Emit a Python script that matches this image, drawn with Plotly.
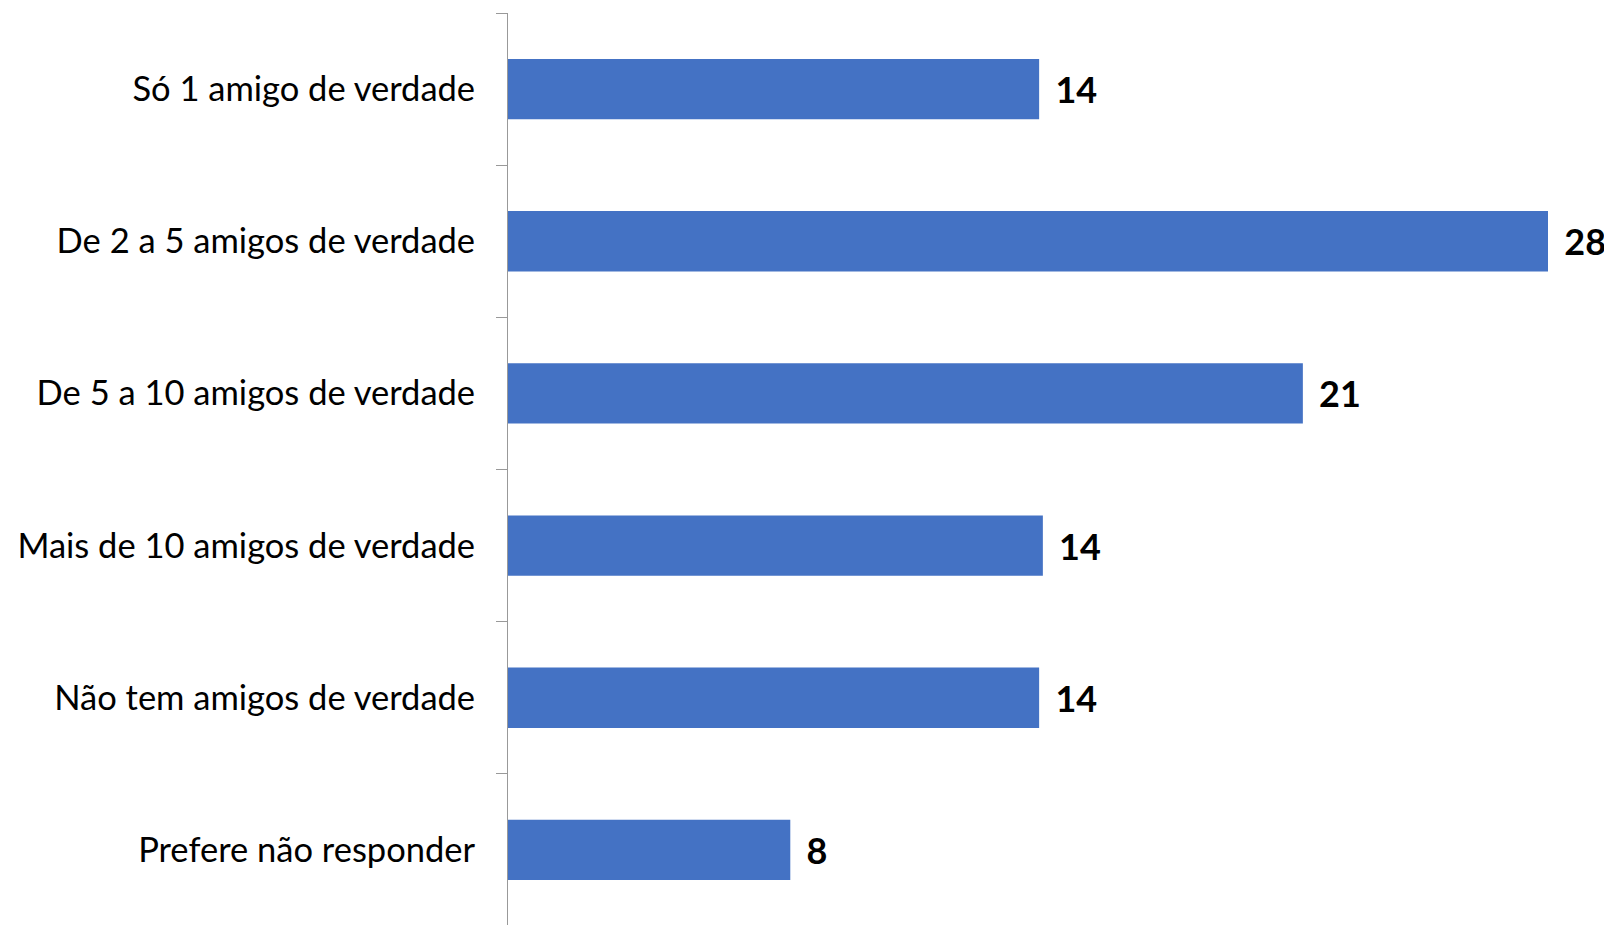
import plotly.graph_objects as go

categories = [
    "Só 1 amigo de verdade",
    "De 2 a 5 amigos de verdade",
    "De 5 a 10 amigos de verdade",
    "Mais de 10 amigos de verdade",
    "Não tem amigos de verdade",
    "Prefere não responder",
]
values = [14.3, 28.0, 21.4, 14.4, 14.3, 7.6]

BAR_COLOR = "#4472C4"
AXIS_COLOR = "#999999"

fig = go.Figure(
    go.Bar(
        x=values,
        y=categories,
        orientation="h",
        marker=dict(color=BAR_COLOR, line=dict(width=0)),
        texttemplate="\u00a0\u2009%{x:.0f}",
        textposition="outside",
        textfont=dict(family="Lato", size=36, color="#000000", weight="bold"),
        cliponaxis=False,
        hoverinfo="skip",
    )
)

# page body has an 8px margin, so the figure is offset by 8px
fig.update_layout(
    width=1604,
    height=918,
    margin=dict(l=500, r=0, t=5, b=0),
    paper_bgcolor="white",
    plot_bgcolor="white",
    bargap=0.603,
    showlegend=False,
    font=dict(family="Lato", color="#000000"),
    xaxis=dict(
        range=[0, 28.0 * 1104 / 1040],
        visible=False,
        showgrid=False,
        zeroline=False,
    ),
    yaxis=dict(
        type="category",
        categoryorder="array",
        categoryarray=categories,
        range=[len(categories) - 0.5, -0.5],
        showline=True,
        linecolor=AXIS_COLOR,
        linewidth=1,
        ticks="outside",
        tickson="boundaries",
        ticklen=11,
        tickcolor=AXIS_COLOR,
        tickwidth=1,
        ticklabelstandoff=25,
        tickfont=dict(family="Lato", size=34.5, color="#000000"),
        showgrid=False,
        zeroline=False,
        automargin=False,
    ),
)

fig.write_html("out.html")
